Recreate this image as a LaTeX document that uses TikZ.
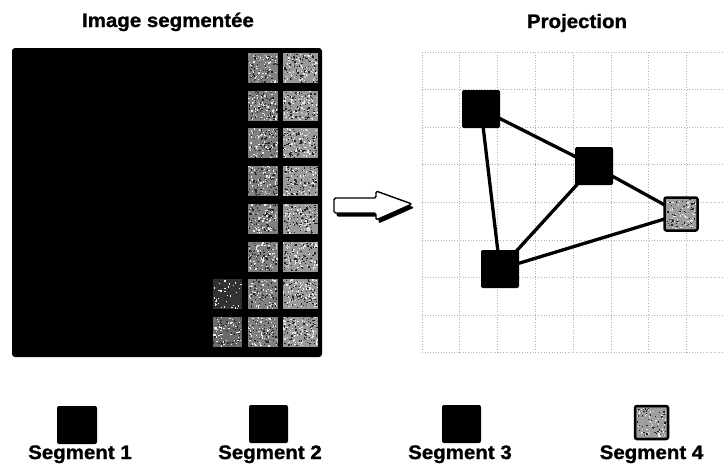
\documentclass[tikz,border=0pt]{standalone}
\usepackage{fontspec}
\usetikzlibrary{backgrounds}
\newfontfamily\labelfont{Liberation Sans}[FakeStretch=1.05,FakeBold=1.2]
\begin{document}
% one unit = 1pt; y grows downwards
\begin{tikzpicture}[x=1pt,y=-1pt,
  lbl/.style={font=\labelfont\bfseries\fontsize{19.5pt}{21pt}\selectfont, anchor=base, inner sep=0pt},
  seg/.style={fill=black, rounded corners=2pt, inner sep=0pt, minimum width=38pt, minimum height=38pt},
  segg/.style={draw=black, line width=2.5pt, fill=black!45, rounded corners=2pt, inner sep=0pt, minimum size=33pt},
  gridln/.style={gray!60, dotted, line width=0.7pt},
  link/.style={line width=3.3pt, black}]

\useasboundingbox (0,0) rectangle (723,467);
\pgfmathsetseed{4217}

% grainy cell: x y w h base-darkness dots
\newcommand\cellgrain[6]{%
  \fill[black!#5] (#1,#2) rectangle ++(#3,#4);
  \foreach \k in {1,...,#6}{%
    \pgfmathsetmacro\gx{#1+rnd*(#3-1.3)}%
    \pgfmathsetmacro\gy{#2+rnd*(#4-1.3)}%
    \fill[black!8] (\gx,\gy) rectangle ++(1.3,1.3);
    \pgfmathsetmacro\hx{#1+rnd*(#3-1.3)}%
    \pgfmathsetmacro\hy{#2+rnd*(#4-1.3)}%
    \fill[black!85] (\hx,\hy) rectangle ++(1.3,1.3);
  }}

\begin{scope}[on background layer]
  \fill[white] (0,0) rectangle (723,467);
  % projection grid
  \foreach \i in {0,...,7}
    \draw[gridln] ({422+37.8*\i},52) -- ({422+37.8*\i},353);
  \foreach \j in {0,...,8}
    \draw[gridln] (422,{52+37.6*\j}) -- (723,{52+37.6*\j});
\end{scope}

% titles
\node[lbl] (t1) at (168,27) {Image segment\'ee};
\node[lbl] (t2) at (577,28) {Projection};

% segmented image
\fill[black, rounded corners=3pt] (12,48) rectangle (322,357);
\foreach \r in {0,...,7}{
  \cellgrain{283}{53+37.7*\r}{35}{30}{40}{75}
  \cellgrain{248}{53+37.7*\r}{30}{30}{50}{60}
}
\cellgrain{213}{53+37.7*6}{29}{30}{80}{35}
\cellgrain{213}{53+37.7*7}{29}{30}{58}{55}

% transition arrow with its shadow
\fill[black, rounded corners=1.5pt, shift={(2.5,3.5)}]
  (334,198) -- (376,198) -- (376,191) -- (412,204) -- (376,220) -- (376,213) -- (334,213) -- cycle;
\filldraw[fill=white, draw=black, line width=1.4pt, rounded corners=1.5pt]
  (334,198) -- (376,198) -- (376,191) -- (412,204) -- (376,220) -- (376,213) -- (334,213) -- cycle;

% segment nodes
\node[seg] (A) at (481,109) {};
\node[seg] (B) at (594,166) {};
\node[seg] (D) at (500,269) {};
\node[segg] (C) at (681,214) {};
\cellgrain{666}{199}{30}{30}{38}{50}

% adjacency links, behind the nodes
\begin{scope}[on background layer]
  \draw[link] (A.center) -- (B.center);
  \draw[link] (A.center) -- (D.center);
  \draw[link] (B.center) -- (D.center);
  \draw[link] (B.center) -- (C.center);
  \draw[link] (D.center) -- (C.center);
\end{scope}

% legend
\node[seg, minimum width=40pt, minimum height=38pt] (l1) at (77,425) {};
\node[seg, minimum width=39pt, minimum height=38pt] (l2) at (268.5,424) {};
\node[seg, minimum width=39pt, minimum height=38pt] (l3) at (461.5,424) {};
\node[segg] (l4) at (651.5,422.5) {};
\cellgrain{637}{408}{29}{29}{38}{45}

\node[lbl] (s1) at (80,459) {Segment 1};
\node[lbl] (s2) at (270,459) {Segment 2};
\node[lbl] (s3) at (460,459) {Segment 3};
\node[lbl] (s4) at (651.5,459) {Segment 4};
\end{tikzpicture}
\end{document}
